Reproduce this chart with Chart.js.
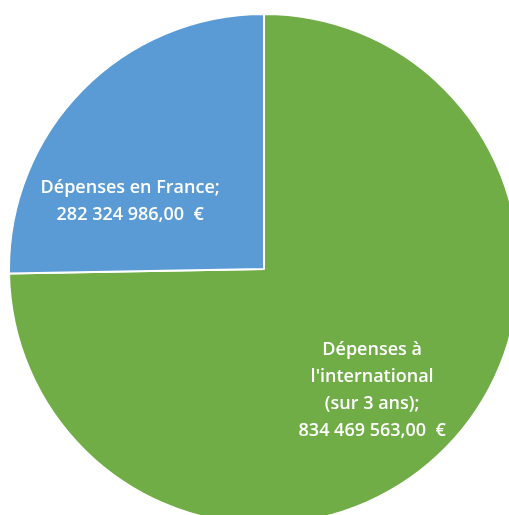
<!DOCTYPE html>
<html lang="fr">
<head>
  <meta charset="UTF-8" />
  <title>Dépenses</title>
  <script src="https://cdn.jsdelivr.net/npm/chart.js@4.4.1/dist/chart.umd.min.js"></script>
  <style>
    html, body {
      margin: 0;
      padding: 0;
      width: 509px;
      height: 515px;
      overflow: hidden;
      background: #fff;
    }
    .wrap {
      position: absolute;
      left: 8px;
      top: 13px;
      width: 512px;
      height: 512px;
    }
  </style>
</head>
<body>
  <div class="wrap">
    <canvas id="pie" width="512" height="512"></canvas>
  </div>

  <script>
    // categories (one array of lines per slice)
    const categories = [
      ["Dépenses à", "l'international", "(sur 3 ans)"],
      ["Dépenses en France"],
    ];
    // values in euros
    const values = [834469563.0, 282324986.0];
    const colors = ["#70AD47", "#5B9BD5"];

    // where each label sits, as a fraction of the radius from the centre
    const labelPos = [
      { fx: 0.424, fy: 0.475 },
      { fx: -0.525, fy: -0.264 },
    ];

    // 282324986 -> "282 324 986,00  €"
    function formatEuro(v) {
      const parts = v.toFixed(2).split(".");
      const int = parts[0].replace(/\B(?=(\d{3})+(?!\d))/g, " ");
      return int + "," + parts[1] + "  €";
    }

    const labelPlugin = {
      id: "sliceLabels",
      afterDatasetsDraw(chart) {
        const ctx = chart.ctx;
        const meta = chart.getDatasetMeta(0);
        ctx.save();
        ctx.fillStyle = "#ffffff";
        ctx.font = "600 18px 'Open Sans'";
        ctx.textAlign = "center";
        ctx.textBaseline = "middle";
        meta.data.forEach((arc, i) => {
          const lines = categories[i].slice();
          lines[lines.length - 1] += ";";
          lines.push(formatEuro(values[i]));
          const cx = arc.x + arc.outerRadius * labelPos[i].fx;
          const cy = arc.y + arc.outerRadius * labelPos[i].fy;
          const lh = 27;
          const y0 = cy - (lh * (lines.length - 1)) / 2;
          lines.forEach((t, k) => ctx.fillText(t, cx, y0 + k * lh));
        });
        ctx.restore();
      },
    };

    const ctx = document.getElementById("pie").getContext("2d");
    new Chart(ctx, {
      type: "pie",
      data: {
        labels: categories.map((c) => c.join(" ")),
        datasets: [
          {
            data: values,
            backgroundColor: colors,
            borderColor: "#ffffff",
            borderWidth: 2,
            hoverOffset: 0,
          },
        ],
      },
      options: {
        responsive: false,
        animation: false,
        layout: { padding: 0 },
        plugins: {
          legend: { display: false },
          tooltip: { enabled: false },
        },
      },
      plugins: [labelPlugin],
    });
  </script>
</body>
</html>
